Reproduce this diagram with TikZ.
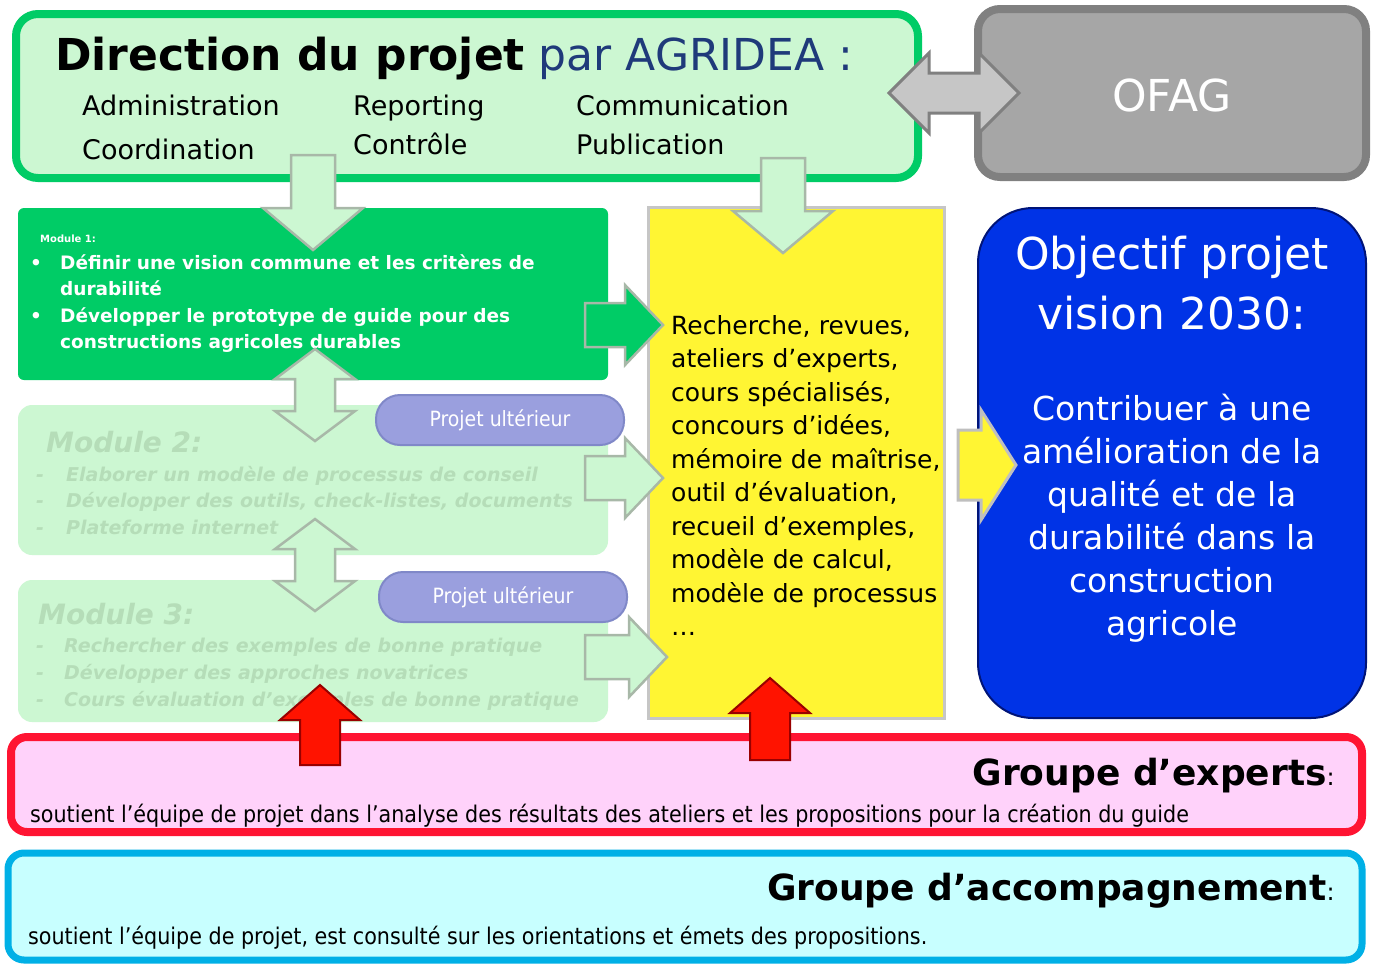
\documentclass[tikz,border=0pt]{standalone}
\usepackage{fontspec}
\usetikzlibrary{shapes.geometric}
\setmainfont{DejaVu Sans}
\newfontfamily\cond{DejaVu Sans Condensed}
\begin{document}
\newcommand\blkarrow[7]{\draw[#1,shift={(#2)},rotate=#3] (0,-#5) -- ({#4-#7},-#5) -- ({#4-#7},-#6) -- (#4,0) -- ({#4-#7},#6) -- ({#4-#7},#5) -- (0,#5) -- cycle;}
\newcommand\dblarrow[7]{\draw[#1,shift={(#2)},rotate=#3] ({-#4/2},0) -- ({-#4/2+#7},#6) -- ({-#4/2+#7},#5) -- ({#4/2-#7},#5) -- ({#4/2-#7},#6) -- ({#4/2},0) -- ({#4/2-#7},-#6) -- ({#4/2-#7},-#5) -- ({-#4/2+#7},-#5) -- ({-#4/2+#7},-#6) -- cycle;}
\begin{tikzpicture}[x=1pt,y=-1pt,
  txt/.style={anchor=base west,inner sep=0pt},
  fs/.style={font=\fontsize{#1}{#1}\selectfont},
  faded/.style={txt,text=faded,font=\fontsize{19}{19}\selectfont\bfseries\itshape},
  ltarrow/.style={fill=ltgreen,draw=arrgray,line width=2.5pt,line join=miter},
  redarrow/.style={fill=red!85!orange,draw=red!60!black,line width=2pt},
  pill/.style={rectangle,rounded corners=24pt,fill=purp,draw=purpd,line width=2pt,minimum width=248pt,minimum height=50pt,text=white,font=\fontsize{21}{21}\selectfont\cond}]
\definecolor{ltgreen}{HTML}{CCF7D2}
\definecolor{mgreen}{HTML}{00CC66}
\definecolor{arrgray}{HTML}{A8B8A8}
\definecolor{faded}{HTML}{B5DDB8}
\definecolor{purp}{HTML}{9A9FDE}
\definecolor{purpd}{HTML}{8088C8}
\definecolor{dblue}{HTML}{1F3A7A}
\useasboundingbox (0,0) rectangle (1376,967);
\fill[white] (0,0) rectangle (1376,967);
% top box
\draw[fill=ltgreen,draw=mgreen,line width=8pt,rounded corners=22pt] (16,14) rectangle (918,178);
\node[txt,fs=44] (title) at (55,70) {\textbf{Direction du projet} \textcolor{dblue}{par AGRIDEA :}};
\node[txt,fs=27] (a1) at (82,115) {Administration};
\node[txt,fs=27] (a2) at (82,159) {Coordination};
\node[txt,fs=27] (a3) at (353,115) {Reporting};
\node[txt,fs=27] (a4) at (353,154) {Contrôle};
\node[txt,fs=27] (a5) at (576,115) {Communication};
\node[txt,fs=27] (a6) at (576,154) {Publication};
% OFAG
\draw[fill=gray!70,draw=gray,line width=8pt,rounded corners=22pt] (978,9) rectangle (1366,177);
\node[fs=44,text=white] (ofag) at (1172,95) {OFAG};
% modules
\fill[mgreen,rounded corners=6pt] (18,208) rectangle (608,380);
\node[txt,fs=28,text=white,font=\bfseries] (m1) at (40,242) {Module 1:};
\begin{scope}[every node/.style={txt,text=white,font=\fontsize{18.5}{18.5}\selectfont\bfseries}]
\node (m1a) at (30,269) {•}; \node (m1b) at (60,269) {Définir une vision commune et les critères de};
\node (m1c) at (60,295) {durabilité};
\node (m1d) at (30,322) {•}; \node (m1e) at (60,322) {Développer le prototype de guide pour des};
\node (m1f) at (60,348) {constructions agricoles durables};
\end{scope}
\fill[ltgreen,rounded corners=14pt] (18,405) rectangle (608,555);
\node[faded,font=\fontsize{28}{28}\selectfont\bfseries\itshape] (m2) at (46,452) {Module 2:};
\node[faded] (m2a) at (36,481) {-}; \node[faded] (m2b) at (66,481) {Elaborer un modèle de processus de conseil};
\node[faded] (m2c) at (36,507) {-}; \node[faded] (m2d) at (66,507) {Développer des outils, check-listes, documents};
\node[faded] (m2e) at (36,534) {-}; \node[faded] (m2f) at (66,534) {Plateforme internet};
\fill[ltgreen,rounded corners=14pt] (18,580) rectangle (608,722);
\node[faded,font=\fontsize{28}{28}\selectfont\bfseries\itshape] (m3) at (38,624) {Module 3:};
\node[faded] (m3a) at (36,652) {-}; \node[faded] (m3b) at (64,652) {Rechercher des exemples de bonne pratique};
\node[faded] (m3c) at (36,679) {-}; \node[faded] (m3d) at (64,679) {Développer des approches novatrices};
\node[faded] (m3e) at (36,706) {-}; \node[faded] (m3f) at (64,706) {Cours évaluation d’exemples de bonne pratique};
\node[pill] (p1) at (500,420) {Projet ultérieur};
\node[pill] (p2) at (503,597) {Projet ultérieur};
% yellow
\draw[fill=yellow!80!white,draw=gray!45,line width=3pt] (648,207) rectangle (944,718);
\node[txt,align=left,text width=290pt,anchor=north west,font=\fontsize{25}{33.5}\selectfont] (res) at (671,315) {Recherche, revues,\\ateliers d’experts,\\cours spécialisés,\\concours d’idées,\\mémoire de maîtrise,\\outil d’évaluation,\\recueil d’exemples,\\modèle de calcul,\\modèle de processus\\…};
% blue
\draw[fill={rgb,255:red,0;green,51;blue,230},draw={rgb,255:red,0;green,20;blue,120},line width=2pt,rounded corners=55pt] (978,208) rectangle (1366,718);
\node[text=white,align=center,font=\fontsize{44}{60}\selectfont] (obj) at (1172,283) {Objectif projet\\vision 2030:};
\node[text=white,align=center,font=\fontsize{33}{43}\selectfont] (objb) at (1172,518) {Contribuer à une\\amélioration de la\\qualité et de la\\durabilité dans la\\construction\\agricole};
% red box
\draw[fill={rgb,255:red,255;green,210;blue,250},draw={rgb,255:red,255;green,20;blue,50},line width=8pt,rounded corners=16pt] (11,737) rectangle (1362,832);
\node[anchor=base east,inner sep=0pt,font=\fontsize{36}{36}\selectfont] (ge) at (1335,785) {\textbf{Groupe d’experts}\fontsize{24}{24}\selectfont:};
\node[txt] (geb) at (30,822) {\cond\fontsize{23}{23}\selectfont soutient l’équipe de projet dans l’analyse des résultats des ateliers et les propositions pour la création du guide};
% cyan box
\draw[fill={rgb,255:red,200;green,255;blue,255},draw={rgb,255:red,0;green,176;blue,230},line width=7pt,rounded corners=16pt] (8,853) rectangle (1362,960);
\node[anchor=base east,inner sep=0pt,font=\fontsize{36}{36}\selectfont] (ga) at (1335,900) {\textbf{Groupe d’accompagnement}\fontsize{24}{24}\selectfont:};
\node[txt] (gab) at (28,944) {\cond\fontsize{23}{23}\selectfont soutient l’équipe de projet, est consulté sur les orientations et émets des propositions.};
% arrows
\dblarrow{fill=gray!45,draw=gray,line width=3pt}{954,93}{0}{130}{20}{40}{40}
\blkarrow{ltarrow}{313,155}{-90}{95}{22}{50}{42}
\blkarrow{ltarrow}{783,158}{-90}{95}{22}{50}{42}
\blkarrow{fill=mgreen,draw=arrgray,line width=2.5pt}{585,325}{0}{78}{22}{40}{38}
\blkarrow{ltarrow}{585,478}{0}{78}{22}{40}{38}
\blkarrow{ltarrow}{585,657}{0}{82}{22}{40}{38}
\blkarrow{fill=yellow!80!white,draw=gray!50,line width=3pt}{958,465}{0}{58}{35}{55}{35}
\dblarrow{ltarrow}{315,395}{90}{92}{20}{40}{30}
\dblarrow{ltarrow}{315,565}{90}{92}{20}{40}{30}
\blkarrow{redarrow}{320,765}{90}{80}{20}{40}{35}
\blkarrow{redarrow}{770,760}{90}{82}{20}{40}{35}
\end{tikzpicture}
\end{document}
